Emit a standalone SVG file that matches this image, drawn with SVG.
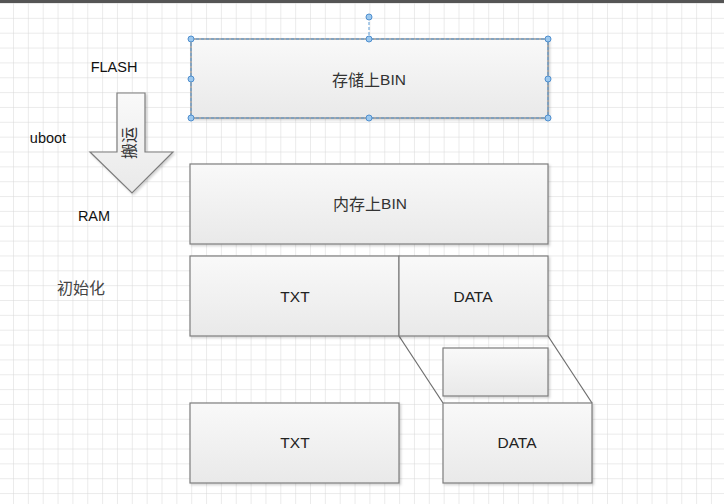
<svg xmlns="http://www.w3.org/2000/svg" width="724" height="504" viewBox="0 0 724 504">
<defs>
<pattern id="grid" x="13" y="3" width="14.85" height="14.85" patternUnits="userSpaceOnUse">
<path d="M0 0H14.85M0 0V14.85" fill="none" stroke="#d8d8d8" stroke-width="1"/>
</pattern>
<linearGradient id="bg" x1="0" y1="0" x2="0" y2="1">
<stop offset="0" stop-color="#f9f9f9"/>
<stop offset="1" stop-color="#e9e9e9"/>
</linearGradient>
<filter id="sh" x="-5%" y="-5%" width="115%" height="120%">
<feDropShadow dx="1.5" dy="1.5" stdDeviation="1.2" flood-color="#000" flood-opacity="0.18"/>
</filter>
</defs>
<style>
.box{fill:url(#bg);stroke:#7d7d7d;stroke-width:1.2;filter:url(#sh)}
.t{font-family:"Liberation Sans","Noto Sans CJK SC",sans-serif;font-size:15.5px;fill:#222;text-anchor:middle;dominant-baseline:central}
.cn{font-family:"Noto Sans CJK SC",sans-serif;font-size:16px;fill:#333;text-anchor:middle;dominant-baseline:central}
.lbl{font-family:"Liberation Sans","Noto Sans CJK SC",sans-serif;font-size:14.5px;fill:#111;text-anchor:middle;dominant-baseline:central}
.sel{fill:none;stroke:#5b9bd5;stroke-width:1;stroke-dasharray:3 2}
.h{fill:#9cc8ee;stroke:#4f8fcf;stroke-width:1}
.conn{stroke:#6d6d6d;stroke-width:1.2;fill:none}
</style>
<rect width="724" height="504" fill="#fff"/>
<rect width="724" height="504" fill="url(#grid)"/>
<rect x="0" y="0" width="724" height="3" fill="#555"/>

<g id="labels">
<text class="lbl" x="114" y="67">FLASH</text>
<text class="lbl" x="48" y="138">uboot</text>
<text class="lbl" x="94" y="216">RAM</text>
<text class="cn" x="81" y="287" style="fill:#444">初始化</text>
</g>

<g id="arrow">
<polygon class="box" points="117,93 145,93 145,152 173,152 132,193 90,152 117,152"/>
<text class="cn" x="128" y="143" transform="rotate(-90 128 143)" style="font-size:16px">搬运</text>
</g>

<g id="connectors">
<line class="conn" x1="399" y1="336" x2="443" y2="403"/>
<line class="conn" x1="548" y1="336" x2="592" y2="403"/>
</g>

<g id="flash-bin">
<rect class="box" x="191" y="39" width="357" height="79"/>
<text class="cn" x="369" y="79">存储上<tspan style="font-family:'Liberation Sans',sans-serif;font-size:15.5px">BIN</tspan></text>
<g id="selection">
<line class="sel" x1="369" y1="17" x2="369" y2="39"/>
<rect class="sel" x="191" y="39" width="357" height="79"/>
<circle class="h" cx="369" cy="17" r="3"/>
<circle class="h" cx="191" cy="39" r="3"/>
<circle class="h" cx="369" cy="39" r="3"/>
<circle class="h" cx="548" cy="39" r="3"/>
<circle class="h" cx="191" cy="79" r="3"/>
<circle class="h" cx="548" cy="79" r="3"/>
<circle class="h" cx="191" cy="118" r="3"/>
<circle class="h" cx="369" cy="118" r="3"/>
<circle class="h" cx="548" cy="118" r="3"/>
</g>
</g>

<g id="ram-bin">
<rect class="box" x="190" y="164" width="358" height="80"/>
<text class="cn" x="370" y="203">内存上<tspan style="font-family:'Liberation Sans',sans-serif;font-size:15.5px">BIN</tspan></text>
</g>

<g id="txt1">
<rect class="box" x="190" y="256" width="209" height="80"/>
<text class="t" x="295" y="296">TXT</text>
</g>
<g id="data1">
<rect class="box" x="399" y="256" width="149" height="80"/>
<text class="t" x="473" y="296">DATA</text>
</g>
<g id="small">
<rect class="box" x="443" y="348" width="105" height="48"/>
</g>
<g id="txt2">
<rect class="box" x="190" y="403" width="209" height="80"/>
<text class="t" x="295" y="442">TXT</text>
</g>
<g id="data2">
<rect class="box" x="443" y="403" width="149" height="80"/>
<text class="t" x="517" y="442">DATA</text>
</g>
</svg>
